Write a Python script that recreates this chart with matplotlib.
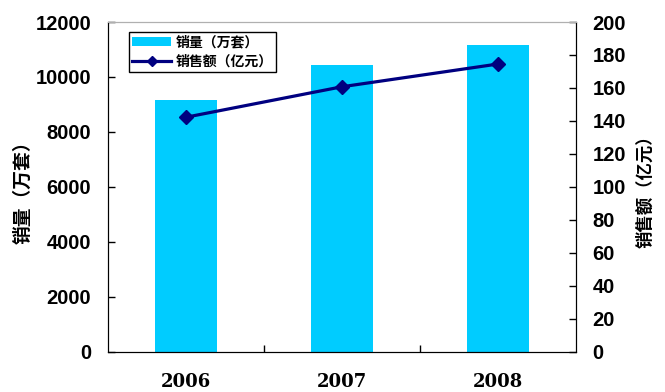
import matplotlib
matplotlib.use('Agg')
import matplotlib.pyplot as plt
import numpy as np

# データ
years = ['2006', '2007', '2008']
sales_volume = [9160, 10430, 11160]   # 销量（万套）
sales_amount = [142.2, 160.7, 174.5]  # 销售额（亿元）

cn_font = ['Noto Sans CJK SC', 'DejaVu Sans']

fig = plt.figure(figsize=(6.65, 3.92), dpi=100)
ax = fig.add_axes([108/665, 1 - 351.5/392, (576 - 108)/665, (351.5 - 22)/392])
ax2 = ax.twinx()

x = np.arange(len(years))
bars = ax.bar(x, sales_volume, width=0.40, color='#00CCFF', label='销量（万套）', zorder=2)
line, = ax2.plot(x, sales_amount, color='#000080', lw=2.3, marker='D', ms=7,
                 label='销售额（亿元）', zorder=3)

ax.set_xlim(-0.5, 2.5)
ax.set_ylim(0, 12000)
ax2.set_ylim(0, 200)
ax.set_yticks(np.arange(0, 12001, 2000))
ax2.set_yticks(np.arange(0, 201, 20))

# x 軸の目盛りはカテゴリの境界
ax.set_xticks([0.5, 1.5])
ax.set_xticklabels([])
ax.tick_params(axis='x', direction='in', length=5, width=1, color='black')
for i, y in enumerate(years):
    ax.text(x[i], -0.094, y, transform=ax.get_xaxis_transform(), ha='center', va='center',
            family='DejaVu Serif', fontweight='bold', fontsize=13)

ax.tick_params(axis='y', direction='in', length=5, width=1, pad=12)
ax2.tick_params(axis='y', direction='in', length=5, width=1, pad=12)
for lab in ax.get_yticklabels() + ax2.get_yticklabels():
    lab.set_family('Liberation Sans')
    lab.set_fontweight('bold')
    lab.set_fontsize(14.5)

for a in (ax, ax2):
    a.spines['top'].set_color('#B0B0B0')
    a.spines['left'].set_color('black')
    a.spines['right'].set_color('black')
    a.spines['bottom'].set_color('black')

fig.text(23/665, 1 - 188/392, '销量（万套）', rotation=90, ha='center', va='center',
         family=cn_font, fontweight='bold', fontsize=13.5)
fig.text(645/665, 1 - 187/392, '销售额（亿元）', rotation=90, ha='center', va='center',
         family=cn_font, fontweight='bold', fontsize=12.5)

leg = ax2.legend([bars, line], ['销量（万套）', '销售额（亿元）'],
                 loc='upper left', bbox_to_anchor=((129 - 108)/468, 1 - (32 - 22)/329.5),
                 borderaxespad=0, frameon=True, fancybox=False, edgecolor='black',
                 framealpha=1, prop={'family': cn_font, 'weight': 'bold', 'size': 10},
                 handlelength=2.8, handleheight=0.6, handletextpad=0.3,
                 labelspacing=0.35, borderpad=0.25, markerscale=0.75)
leg.get_frame().set_linewidth(1)

fig.savefig('out.png', dpi=100)
